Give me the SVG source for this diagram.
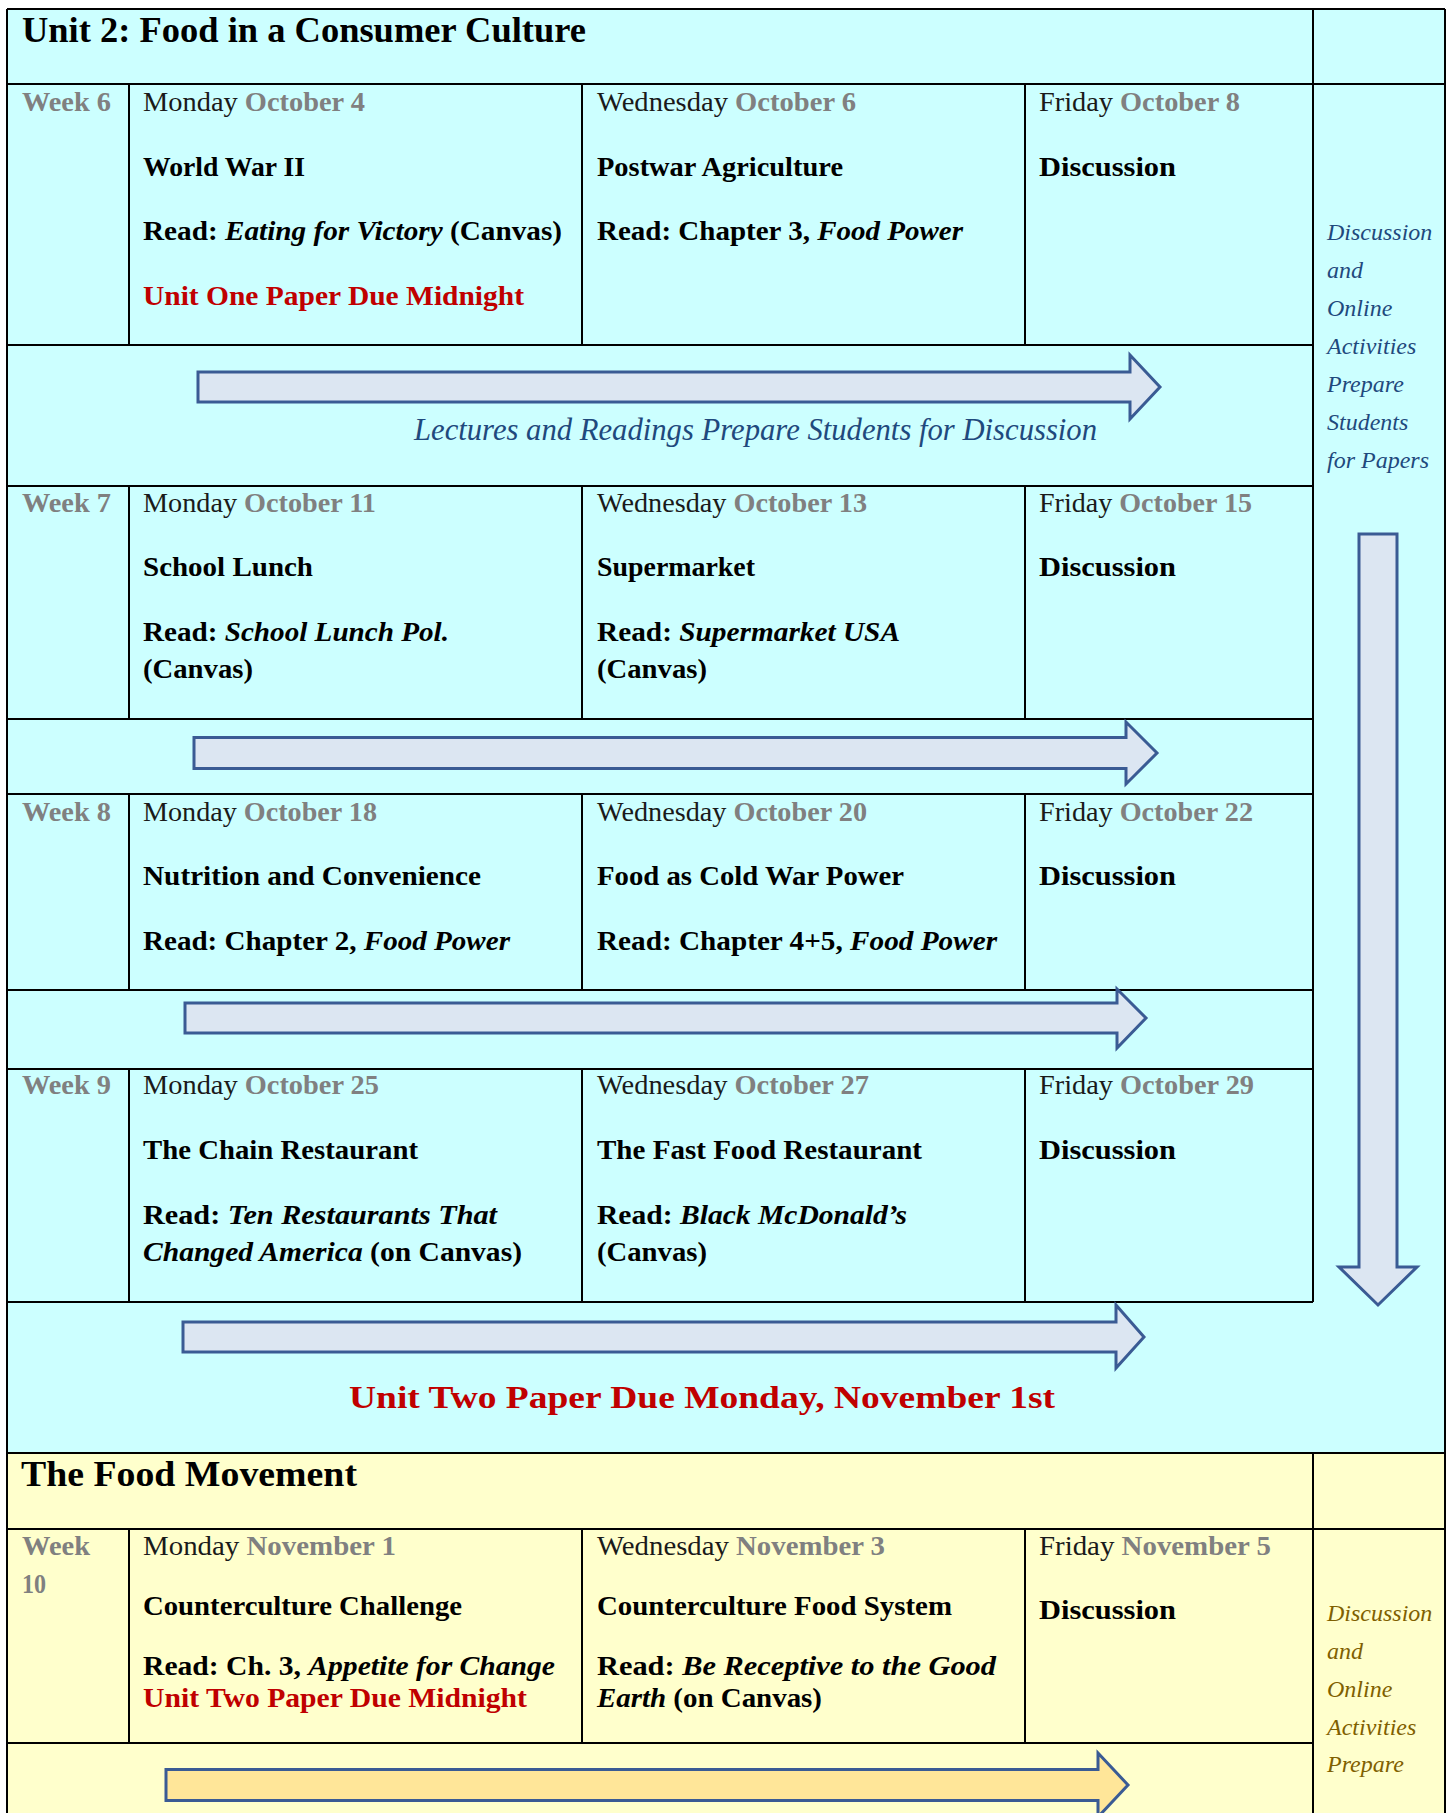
<svg xmlns="http://www.w3.org/2000/svg" width="1449" height="1813" viewBox="0 0 1449 1813">
<style>
text{font-family:"Liberation Serif","Times New Roman",serif;font-size:28px;fill:#111}
.h{font-size:36px;font-weight:bold;fill:#000}
.d{fill:#1a1a1a}
.g{fill:#808080;font-weight:bold}
.b{font-weight:bold;fill:#000}
.i{font-style:italic}
.r{fill:#C00000;font-weight:bold}
.s{font-style:italic;font-size:24px;fill:#1F497D}
.sy{font-style:italic;font-size:24px;fill:#7F6000}
.ln{font-style:italic;font-size:32px;fill:#1F497D}
.big{font-size:32px;font-weight:bold;fill:#C00000}
.grid{stroke:#000;stroke-width:2;fill:none}
.ar{fill:#DCE6F2;stroke:#3A5B94;stroke-width:3;stroke-linejoin:miter}
.ary{fill:#FFE699;stroke:#3A5B94;stroke-width:3;stroke-linejoin:miter}
</style>
<rect x="0" y="0" width="1449" height="1813" fill="#fff"/>
<rect x="7" y="9" width="1438" height="1444" fill="#CCFFFF"/>
<rect x="7" y="1453" width="1438" height="360" fill="#FFFFCC"/>

<g id="grid" class="grid">
<path d="M7 9H1445M7 84H1445M7 345H1313M7 486H1313M7 719H1313M7 794H1313M7 990H1313M7 1069H1313M7 1302H1313M7 1453H1445M7 1529H1445M7 1743H1313"/>
<path d="M7 9V1813M1445 9V1813M1313 9V1302M1313 1453V1813"/>
<path d="M129 84V345M582 84V345M1025 84V345M129 486V719M582 486V719M1025 486V719M129 794V990M582 794V990M1025 794V990M129 1069V1302M582 1069V1302M1025 1069V1302M129 1529V1743M582 1529V1743M1025 1529V1743"/>
</g>

<g id="connectors">
<polygon class="ar" points="198,372 1130,372 1130,355 1160,387 1130,419 1130,402 198,402"/>
<polygon class="ar" points="194,737.5 1126,737.5 1126,722 1157,753 1126,784 1126,768.5 194,768.5"/>
<polygon class="ar" points="185,1003 1117,1003 1117,989 1146,1018 1117,1048 1117,1033 185,1033"/>
<polygon class="ar" points="183,1322 1116,1322 1116,1305 1144,1337 1116,1368 1116,1352 183,1352"/>
<polygon class="ary" points="166,1769.5 1098,1769.5 1098,1753 1128,1785 1098,1817 1098,1800.5 166,1800.5"/>
<polygon class="ar" points="1359,534 1397,534 1397,1267 1417,1267 1378,1305 1339,1267 1359,1267"/>
</g>

<g id="unit2-header"><text class="h" x="22" y="42" textLength="564" lengthAdjust="spacingAndGlyphs">Unit 2: Food in a Consumer Culture</text></g>

<g id="unit2-side">
<text class="s" x="1327" y="240">Discussion</text>
<text class="s" x="1327" y="278">and</text>
<text class="s" x="1327" y="316">Online</text>
<text class="s" x="1327" y="354">Activities</text>
<text class="s" x="1327" y="392">Prepare</text>
<text class="s" x="1327" y="430">Students</text>
<text class="s" x="1327" y="468">for Papers</text>
</g>

<g id="week6">
<text class="g" x="22" y="111" textLength="89" lengthAdjust="spacingAndGlyphs">Week 6</text>
</g>
<g id="w6-mon">
<text class="d" x="143" y="111" textLength="222" lengthAdjust="spacingAndGlyphs">Monday <tspan class="g">October 4</tspan></text>
<text class="b" x="143" y="176" textLength="162" lengthAdjust="spacingAndGlyphs">World War II</text>
<text class="b" x="143" y="240" textLength="419" lengthAdjust="spacingAndGlyphs">Read: <tspan class="i">Eating for Victory</tspan> (Canvas)</text>
<text class="r" x="143" y="305" textLength="381" lengthAdjust="spacingAndGlyphs">Unit One Paper Due Midnight</text>
</g>
<g id="w6-wed">
<text class="d" x="597" y="111" textLength="259" lengthAdjust="spacingAndGlyphs">Wednesday <tspan class="g">October 6</tspan></text>
<text class="b" x="597" y="176" textLength="246" lengthAdjust="spacingAndGlyphs">Postwar Agriculture</text>
<text class="b" x="597" y="240" textLength="366" lengthAdjust="spacingAndGlyphs">Read: Chapter 3, <tspan class="i">Food Power</tspan></text>
</g>
<g id="w6-fri">
<text class="d" x="1039" y="111" textLength="201" lengthAdjust="spacingAndGlyphs">Friday <tspan class="g">October 8</tspan></text>
<text class="b" x="1039" y="176" textLength="137" lengthAdjust="spacingAndGlyphs">Discussion</text>
</g>

<g id="band1"><text class="ln" x="414" y="440" textLength="683" lengthAdjust="spacingAndGlyphs">Lectures and Readings Prepare Students for Discussion</text></g>

<g id="week7"><text class="g" x="22" y="512" textLength="89" lengthAdjust="spacingAndGlyphs">Week 7</text></g>
<g id="w7-mon">
<text class="d" x="143" y="512" textLength="233" lengthAdjust="spacingAndGlyphs">Monday <tspan class="g">October 11</tspan></text>
<text class="b" x="143" y="576" textLength="170" lengthAdjust="spacingAndGlyphs">School Lunch</text>
<text class="b" x="143" y="641" textLength="306" lengthAdjust="spacingAndGlyphs">Read: <tspan class="i">School Lunch Pol.</tspan></text>
<text class="b" x="143" y="678" textLength="110" lengthAdjust="spacingAndGlyphs">(Canvas)</text>
</g>
<g id="w7-wed">
<text class="d" x="597" y="512" textLength="270" lengthAdjust="spacingAndGlyphs">Wednesday <tspan class="g">October 13</tspan></text>
<text class="b" x="597" y="576" textLength="158" lengthAdjust="spacingAndGlyphs">Supermarket</text>
<text class="b" x="597" y="641" textLength="303" lengthAdjust="spacingAndGlyphs">Read: <tspan class="i">Supermarket USA</tspan></text>
<text class="b" x="597" y="678" textLength="110" lengthAdjust="spacingAndGlyphs">(Canvas)</text>
</g>
<g id="w7-fri">
<text class="d" x="1039" y="512" textLength="213" lengthAdjust="spacingAndGlyphs">Friday <tspan class="g">October 15</tspan></text>
<text class="b" x="1039" y="576" textLength="137" lengthAdjust="spacingAndGlyphs">Discussion</text>
</g>

<g id="week8"><text class="g" x="22" y="821" textLength="89" lengthAdjust="spacingAndGlyphs">Week 8</text></g>
<g id="w8-mon">
<text class="d" x="143" y="821" textLength="234" lengthAdjust="spacingAndGlyphs">Monday <tspan class="g">October 18</tspan></text>
<text class="b" x="143" y="885" textLength="338" lengthAdjust="spacingAndGlyphs">Nutrition and Convenience</text>
<text class="b" x="143" y="950" textLength="367" lengthAdjust="spacingAndGlyphs">Read: Chapter 2, <tspan class="i">Food Power</tspan></text>
</g>
<g id="w8-wed">
<text class="d" x="597" y="821" textLength="270" lengthAdjust="spacingAndGlyphs">Wednesday <tspan class="g">October 20</tspan></text>
<text class="b" x="597" y="885" textLength="307" lengthAdjust="spacingAndGlyphs">Food as Cold War Power</text>
<text class="b" x="597" y="950" textLength="400" lengthAdjust="spacingAndGlyphs">Read: Chapter 4+5, <tspan class="i">Food Power</tspan></text>
</g>
<g id="w8-fri">
<text class="d" x="1039" y="821" textLength="214" lengthAdjust="spacingAndGlyphs">Friday <tspan class="g">October 22</tspan></text>
<text class="b" x="1039" y="885" textLength="137" lengthAdjust="spacingAndGlyphs">Discussion</text>
</g>

<g id="week9"><text class="g" x="22" y="1094" textLength="89" lengthAdjust="spacingAndGlyphs">Week 9</text></g>
<g id="w9-mon">
<text class="d" x="143" y="1094" textLength="236" lengthAdjust="spacingAndGlyphs">Monday <tspan class="g">October 25</tspan></text>
<text class="b" x="143" y="1159" textLength="275" lengthAdjust="spacingAndGlyphs">The Chain Restaurant</text>
<text class="b" x="143" y="1224" textLength="354" lengthAdjust="spacingAndGlyphs">Read: <tspan class="i">Ten Restaurants That</tspan></text>
<text class="b" x="143" y="1261" textLength="379" lengthAdjust="spacingAndGlyphs"><tspan class="i">Changed America</tspan> (on Canvas)</text>
</g>
<g id="w9-wed">
<text class="d" x="597" y="1094" textLength="272" lengthAdjust="spacingAndGlyphs">Wednesday <tspan class="g">October 27</tspan></text>
<text class="b" x="597" y="1159" textLength="325" lengthAdjust="spacingAndGlyphs">The Fast Food Restaurant</text>
<text class="b" x="597" y="1224" textLength="310" lengthAdjust="spacingAndGlyphs">Read: <tspan class="i">Black McDonald’s</tspan></text>
<text class="b" x="597" y="1261" textLength="110" lengthAdjust="spacingAndGlyphs">(Canvas)</text>
</g>
<g id="w9-fri">
<text class="d" x="1039" y="1094" textLength="215" lengthAdjust="spacingAndGlyphs">Friday <tspan class="g">October 29</tspan></text>
<text class="b" x="1039" y="1159" textLength="137" lengthAdjust="spacingAndGlyphs">Discussion</text>
</g>

<g id="band4"><text class="big" x="349" y="1408" textLength="706" lengthAdjust="spacingAndGlyphs">Unit Two Paper Due Monday, November 1st</text></g>

<g id="food-header"><text class="h" x="21" y="1486" textLength="336" lengthAdjust="spacingAndGlyphs">The Food Movement</text></g>

<g id="food-side">
<text class="sy" x="1327" y="1621">Discussion</text>
<text class="sy" x="1327" y="1659">and</text>
<text class="sy" x="1327" y="1697">Online</text>
<text class="sy" x="1327" y="1735">Activities</text>
<text class="sy" x="1327" y="1772">Prepare</text>
</g>

<g id="week10">
<text class="g" x="22" y="1555" textLength="68" lengthAdjust="spacingAndGlyphs">Week</text>
<text class="g" x="22" y="1593" textLength="24" lengthAdjust="spacingAndGlyphs">10</text>
</g>
<g id="w10-mon">
<text class="d" x="143" y="1555" textLength="253" lengthAdjust="spacingAndGlyphs">Monday <tspan class="g">November 1</tspan></text>
<text class="b" x="143" y="1615" textLength="319" lengthAdjust="spacingAndGlyphs">Counterculture Challenge</text>
<text class="b" x="143" y="1675" textLength="412" lengthAdjust="spacingAndGlyphs">Read: Ch. 3, <tspan class="i">Appetite for Change</tspan></text>
<text class="r" x="143" y="1707" textLength="384" lengthAdjust="spacingAndGlyphs">Unit Two Paper Due Midnight</text>
</g>
<g id="w10-wed">
<text class="d" x="597" y="1555" textLength="288" lengthAdjust="spacingAndGlyphs">Wednesday <tspan class="g">November 3</tspan></text>
<text class="b" x="597" y="1615" textLength="355" lengthAdjust="spacingAndGlyphs">Counterculture Food System</text>
<text class="b" x="597" y="1675" textLength="399" lengthAdjust="spacingAndGlyphs">Read: <tspan class="i">Be Receptive to the Good</tspan></text>
<text class="b" x="597" y="1707" textLength="225" lengthAdjust="spacingAndGlyphs"><tspan class="i">Earth</tspan> (on Canvas)</text>
</g>
<g id="w10-fri">
<text class="d" x="1039" y="1555" textLength="232" lengthAdjust="spacingAndGlyphs">Friday <tspan class="g">November 5</tspan></text>
<text class="b" x="1039" y="1619" textLength="137" lengthAdjust="spacingAndGlyphs">Discussion</text>
</g>
</svg>
